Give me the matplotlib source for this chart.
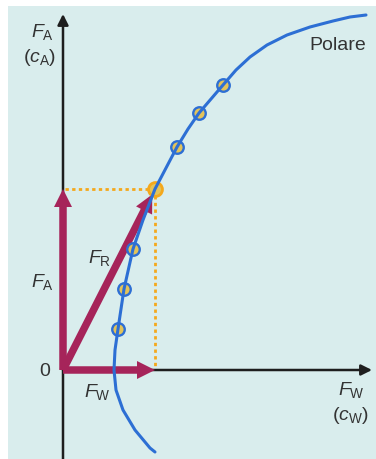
import numpy as np
import matplotlib
matplotlib.use('Agg')
import matplotlib.pyplot as plt
from matplotlib.patches import Rectangle, FancyArrow

plt.rcParams['font.family'] = ['Liberation Sans', 'DejaVu Sans']
plt.rcParams['mathtext.fontset'] = 'custom'
plt.rcParams['mathtext.rm'] = 'Liberation Sans'
plt.rcParams['mathtext.it'] = 'Liberation Sans:italic'

# polar curve (c_W, c_A), arbitrary units
polar_cw = [92, 87, 72, 60, 53, 51, 52, 55, 61, 70, 80, 92, 103, 114, 125,
            136, 148, 160, 173, 187, 204, 224, 247, 270, 287, 303]
polar_ca = [-82, -78, -60, -40, -20, 0, 20, 41, 81, 121, 150, 181, 202, 223,
            241, 257, 271, 285, 300, 313, 325, 335, 343, 349, 353, 355]

# measured points on the polar
meas_cw = [55, 61, 70, 114, 136, 160]
meas_ca = [41, 81, 121, 223, 257, 285]

# operating point
op_cw = 92
op_ca = 181

bg = '#d9eded'
maroon = '#a6245a'
blue = '#2d6fd4'
orange = '#f4a81c'
yellow = '#e3c35a'
ink = '#1e1e1e'
txt = '#333333'

fig = plt.figure(figsize=(3.76, 4.59), dpi=100)
ax = fig.add_axes([0, 0, 1, 1])
ax.set_xlim(-63, 313)
ax.set_ylim(-89, 370)
ax.set_aspect('equal')
ax.axis('off')

# panel background (white strip on left/top)
fig.patches.append(Rectangle((8 / 376, 0), 1, 1 - 6 / 459, transform=fig.transFigure,
                             facecolor=bg, edgecolor='none', zorder=-10))

# coordinate axes
ax.annotate('', xy=(0, 356), xytext=(0, -95),
            arrowprops=dict(arrowstyle='-|>', color=ink, lw=1.8, mutation_scale=16,
                            shrinkA=0, shrinkB=0), zorder=2)
ax.annotate('', xy=(309, 0), xytext=(0, 0),
            arrowprops=dict(arrowstyle='-|>', color=ink, lw=1.8, mutation_scale=16,
                            shrinkA=0, shrinkB=0), zorder=2)

# dotted guide lines
ax.plot([2, op_cw], [op_ca, op_ca], color=orange, lw=2, ls=(0, (1.2, 1.2)), zorder=3)
ax.plot([op_cw, op_cw], [op_ca, 2], color=orange, lw=2, ls=(0, (1.2, 1.2)), zorder=3)

# force arrows
kw = dict(width=7.5, head_width=18, head_length=18, length_includes_head=True,
          color=maroon, lw=0, zorder=4)
ax.add_patch(FancyArrow(0, 0, 0, op_ca, **kw))
ax.add_patch(FancyArrow(0, 0, op_cw, 0, **kw))
ax.add_patch(FancyArrow(0, 0, op_cw * 0.97, op_ca * 0.97, **kw))

# measured points, then curve on top
ax.plot(meas_cw, meas_ca, 'o', ms=9, mfc=yellow, mec=blue, mew=1.7, zorder=5)
ax.plot(op_cw, op_ca, 'o', ms=10, mfc=yellow, mec=orange, mew=2, zorder=5)
ax.plot(polar_cw, polar_ca, color=blue, lw=2.2, solid_capstyle='round',
        solid_joinstyle='round', zorder=6)

fs = 14
ax.text(-21, 338, r'$F_{\mathrm{A}}$', fontsize=fs, color=txt, ha='center', va='center')
ax.text(-23, 313, r'$(c_{\mathrm{A}})$', fontsize=fs, color=txt, ha='center', va='center')
ax.text(303, 325, 'Polare', fontsize=fs, color=txt, ha='right', va='center')
ax.text(37, 112, r'$F_{\mathrm{R}}$', fontsize=fs, color=txt, ha='center', va='center')
ax.text(-21, 88, r'$F_{\mathrm{A}}$', fontsize=fs, color=txt, ha='center', va='center')
ax.text(-18, -2, '0', fontsize=fs, color=txt, ha='center', va='center')
ax.text(34, -22, r'$F_{\mathrm{W}}$', fontsize=fs, color=txt, ha='center', va='center')
ax.text(288, -20, r'$F_{\mathrm{W}}$', fontsize=fs, color=txt, ha='center', va='center')
ax.text(287, -45, r'$(c_{\mathrm{W}})$', fontsize=fs, color=txt, ha='center', va='center')

fig.savefig('out.png', dpi=100)
